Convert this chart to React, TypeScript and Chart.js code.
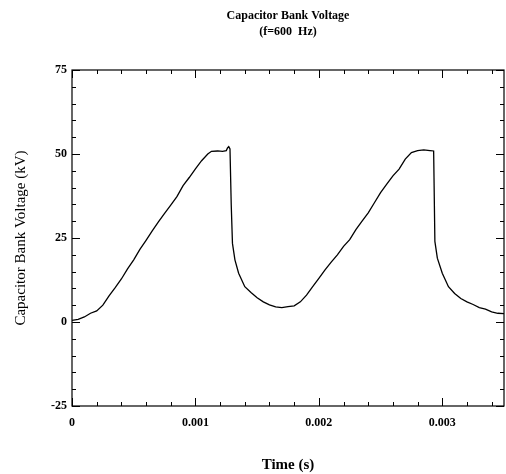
import { useEffect, useRef } from "react";
import { Chart, registerables } from "chart.js";

Chart.register(...registerables);

const timeValues = [
  0, 0.00005, 0.0001, 0.00015, 0.0002, 0.00025, 0.0003, 0.00035, 0.0004, 0.00045,
  0.0005, 0.00055, 0.0006, 0.00065, 0.0007, 0.00075, 0.0008, 0.00085, 0.0009, 0.00095,
  0.001, 0.00105, 0.0011, 0.00113, 0.00118, 0.00122, 0.00125, 0.00126, 0.00127, 0.00128,
  0.00129, 0.0013, 0.00132, 0.00135, 0.0014, 0.00145, 0.0015, 0.00155, 0.0016, 0.00165,
  0.0017, 0.00175, 0.0018, 0.00185, 0.0019, 0.00195, 0.002, 0.00205, 0.0021, 0.00215,
  0.0022, 0.00225, 0.0023, 0.00235, 0.0024, 0.00245, 0.0025, 0.00255, 0.0026, 0.00265,
  0.0027, 0.00275, 0.0028, 0.00285, 0.0029, 0.00293, 0.00294, 0.00296, 0.003, 0.00305,
  0.0031, 0.00315, 0.0032, 0.00325, 0.0033, 0.00335, 0.0034, 0.00345, 0.0035,
];

const voltageValues = [
  0.5, 0.8, 1.5, 2.6, 3.3, 5.0, 7.8, 10.2, 12.8, 15.8,
  18.5, 21.6, 24.3, 27.1, 29.8, 32.3, 34.8, 37.3, 40.6, 43.0,
  45.6, 48.0, 50.0, 50.8, 50.9, 50.8, 51.0, 51.8, 52.2, 51.5,
  35.0, 23.4, 18.5, 14.5, 10.5, 8.8, 7.2, 6.0, 5.1, 4.5,
  4.3, 4.6, 4.8, 6.0, 8.0, 10.5, 13.0, 15.5, 17.8, 20.0,
  22.5, 24.5, 27.5, 30.0, 32.5, 35.5, 38.5, 41.0, 43.5, 45.5,
  48.5, 50.4, 51.0, 51.2, 51.0, 50.9, 24.0, 19.0, 14.5, 10.5,
  8.5, 7.0, 6.0, 5.2, 4.3, 3.8, 3.0, 2.6, 2.5,
];

const xTickValues = [0, 0.001, 0.002, 0.003];
const xTickLabels = ["0", "0.001", "0.002", "0.003"];
const yTickValues = [-25, 0, 25, 50, 75];
const yTickLabels = ["-25", "0", "25", "50", "75"];
const xMinorStep = 0.0002;
const yMinorStep = 5;

const titleLines = ["Capacitor Bank Voltage", "(f=600  Hz)"];
const xTitle = "Time (s)";
const yTitle = "Capacitor Bank Voltage (kV)";

const FONT = "'Liberation Serif', 'Times New Roman', serif";

const framePlugin = {
  id: "frameTicks",
  afterDraw(chart: any) {
    const { ctx, chartArea } = chart;
    const { left, right, top, bottom } = chartArea;
    const xs = chart.scales.x;
    const ys = chart.scales.y;
    ctx.save();
    ctx.strokeStyle = "#000";
    ctx.lineWidth = 1.2;
    ctx.strokeRect(left, top, right - left, bottom - top);
    ctx.lineWidth = 1;
    ctx.beginPath();
    const nx = Math.round((xs.max - xs.min) / xMinorStep);
    for (let i = 0; i <= nx; i++) {
      const v = xs.min + i * xMinorStep;
      const px = Math.round(xs.getPixelForValue(v)) + 0.5;
      const major = i % 5 === 0;
      const len = major ? 8 : 4;
      ctx.moveTo(px, bottom);
      ctx.lineTo(px, bottom - len);
      ctx.moveTo(px, top);
      ctx.lineTo(px, top + len);
    }
    const ny = Math.round((ys.max - ys.min) / yMinorStep);
    for (let i = 0; i <= ny; i++) {
      const v = ys.min + i * yMinorStep;
      const py = Math.round(ys.getPixelForValue(v)) + 0.5;
      const major = i % 5 === 0;
      const len = major ? 8 : 4;
      ctx.moveTo(left, py);
      ctx.lineTo(left + len, py);
      ctx.moveTo(right, py);
      ctx.lineTo(right - len, py);
    }
    ctx.stroke();

    ctx.fillStyle = "#000";
    ctx.font = `bold 12px ${FONT}`;
    ctx.textAlign = "center";
    ctx.textBaseline = "middle";
    const cx = (left + right) / 2;
    titleLines.forEach((line, i) => {
      ctx.fillText(line, cx, 16 + i * 16);
    });
    ctx.restore();
  },
};

export default function App() {
  const canvasRef = useRef<HTMLCanvasElement | null>(null);

  useEffect(() => {
    if (!canvasRef.current) return;
    const chart = new Chart(canvasRef.current, {
      type: "line",
      data: {
        datasets: [
          {
            data: timeValues.map((t, i) => ({ x: t, y: voltageValues[i] })),
            borderColor: "#000",
            borderWidth: 1.3,
            pointRadius: 0,
            tension: 0,
            fill: false,
          },
        ],
      },
      options: {
        animation: false,
        responsive: false,
        layout: { padding: { top: 70, right: 2, left: 0, bottom: 0 } },
        plugins: {
          legend: { display: false },
          tooltip: { enabled: false },
          title: { display: false },
        },
        scales: {
          x: {
            type: "linear",
            min: 0,
            max: 0.0035,
            grid: { display: false, drawTicks: false },
            border: { display: false },
            afterBuildTicks: (s: any) => {
              s.ticks = xTickValues.map((value) => ({ value }));
            },
            afterFit: (s: any) => {
              s.height = 68;
            },
            ticks: {
              autoSkip: false,
              maxRotation: 0,
              padding: 10,
              color: "#000",
              font: { family: FONT, size: 12, weight: "bold" },
              callback: (value: any) => {
                const idx = xTickValues.indexOf(value);
                return idx >= 0 ? xTickLabels[idx] : "";
              },
            },
            title: {
              display: true,
              text: xTitle,
              color: "#000",
              font: { family: FONT, size: 15, weight: "bold" },
              padding: { top: 0, bottom: 0 },
            },
          },
          y: {
            type: "linear",
            min: -25,
            max: 75,
            grid: { display: false, drawTicks: false },
            border: { display: false },
            afterBuildTicks: (s: any) => {
              s.ticks = yTickValues.map((value) => ({ value }));
            },
            afterFit: (s: any) => {
              s.width = 72;
            },
            ticks: {
              autoSkip: false,
              padding: 5,
              color: "#000",
              font: { family: FONT, size: 12, weight: "bold" },
              callback: (value: any) => {
                const idx = yTickValues.indexOf(value);
                return idx >= 0 ? yTickLabels[idx] : "";
              },
            },
            title: {
              display: true,
              text: yTitle,
              color: "#000",
              font: { family: FONT, size: 15 },
              padding: { top: 12, bottom: 0 },
            },
          },
        },
      },
      plugins: [framePlugin],
    } as any);
    return () => chart.destroy();
  }, []);

  return (
    <div style={{ position: "fixed", left: 0, top: 0, width: 506, height: 474, background: "#fff" }}>
      <canvas ref={canvasRef} width={506} height={474} />
    </div>
  );
}
